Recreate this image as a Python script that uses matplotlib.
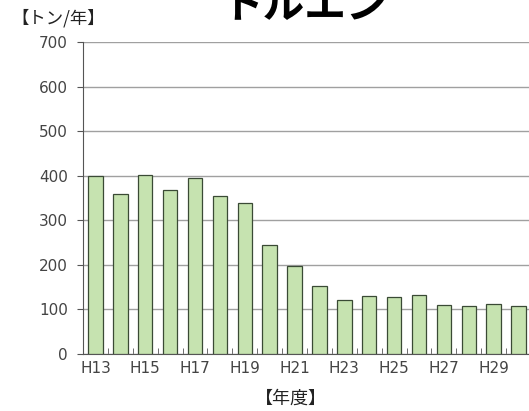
import numpy as np
import matplotlib.pyplot as plt

plt.rcParams['font.family'] = ['Noto Sans CJK JP', 'DejaVu Sans']

years = ['H13', 'H14', 'H15', 'H16', 'H17', 'H18', 'H19', 'H20', 'H21',
         'H22', 'H23', 'H24', 'H25', 'H26', 'H27', 'H28', 'H29', 'H30']
emissions = [399, 360, 402, 369, 394, 354, 338, 245, 197,
             153, 122, 131, 127, 133, 110, 108, 112, 107]
yticks = [0, 100, 200, 300, 400, 500, 600, 700]

fig = plt.figure(figsize=(5.29, 4.11), dpi=100)
ax = fig.add_axes([83 / 529, 1 - 354 / 411, 448 / 529, 312 / 411])

x = np.arange(len(years))
ax.bar(x, emissions, width=0.58, color='#c6e3b0', edgecolor='#3a4a35',
       linewidth=0.9, zorder=3)

ax.set_xlim(-0.5, len(years) - 0.5)
ax.set_ylim(0, 700)
ax.set_yticks(yticks)
ax.yaxis.grid(True, color='#a0a0a0', linewidth=1.0, zorder=0)
ax.set_axisbelow(True)

for s in ['top', 'right']:
    ax.spines[s].set_visible(False)
ax.spines['left'].set_color('#555555')
ax.spines['bottom'].set_color('#555555')

# labels every other year, small inward ticks between categories
ax.set_xticks(x[::2])
ax.set_xticklabels(years[::2])
ax.set_xticks(np.arange(len(years)) + 0.5, minor=True)
ax.tick_params(axis='x', which='major', length=0, pad=5)
ax.tick_params(axis='x', which='minor', direction='in', length=4,
               color='#555555')
ax.tick_params(axis='y', direction='out', length=4, color='#555555', pad=7)
for lab in ax.get_xticklabels() + ax.get_yticklabels():
    lab.set_fontfamily('DejaVu Sans')
    lab.set_fontsize(11)
    lab.set_color('#444444')

fig.text(0.022, 1 - 18 / 411, '【トン/年】', fontsize=12.5, color='#222222',
         va='center', ha='left')
fig.text(0.55, 1 - 399 / 411, '【年度】', fontsize=13, color='#222222',
         va='center', ha='center')
fig.text(0.575, 1 - 17 / 411, 'トルエン', fontsize=30, color='black',
         fontweight='bold', va='baseline', ha='center')

fig.savefig('out.png', dpi=100)
